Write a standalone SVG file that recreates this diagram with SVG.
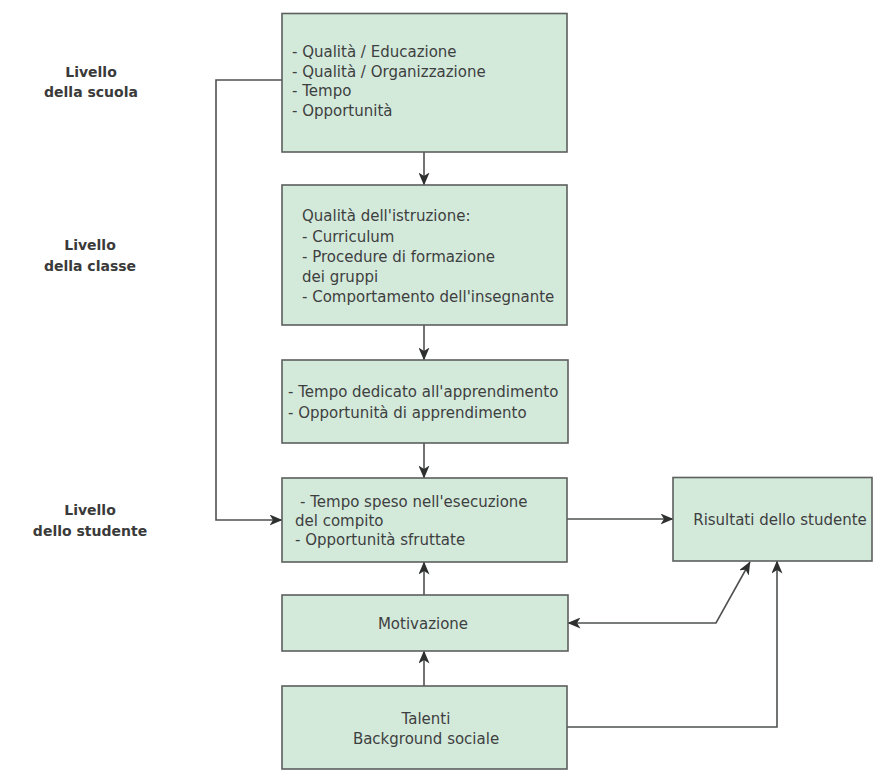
<svg xmlns="http://www.w3.org/2000/svg" width="877" height="772" viewBox="0 0 877 772">
<defs>
<style>
.box{fill:#d3eadb;stroke:#5d5f5e;stroke-width:1.6}
.t{font-family:"DejaVu Sans","Verdana",sans-serif;font-size:15px;fill:#3e403f}
.c{text-anchor:middle}
.lab{font-family:"DejaVu Sans","Verdana",sans-serif;font-size:14px;font-weight:bold;fill:#3a3a3a;text-anchor:middle}
.ln{fill:none;stroke:#4f5150;stroke-width:1.6}
</style>
<marker id="ah" viewBox="0 0 13 11" refX="12.5" refY="5.5" markerWidth="13" markerHeight="11" markerUnits="userSpaceOnUse" orient="auto-start-reverse">
<path d="M0,0 L13,5.5 L0,11 L3.5,5.5 Z" fill="#2e2f2f"/>
</marker>
</defs>
<rect width="877" height="772" fill="#ffffff"/>

<g id="labels">
<text class="lab" x="91" y="77">Livello</text>
<text class="lab" x="91" y="97">della scuola</text>
<text class="lab" x="90" y="250">Livello</text>
<text class="lab" x="90" y="271">della classe</text>
<text class="lab" x="90" y="515">Livello</text>
<text class="lab" x="90" y="536">dello studente</text>
</g>

<g id="connectors">
<line class="ln" x1="424" y1="152" x2="424" y2="185" marker-end="url(#ah)"/>
<line class="ln" x1="424" y1="325" x2="424" y2="360" marker-end="url(#ah)"/>
<line class="ln" x1="424" y1="443" x2="424" y2="478" marker-end="url(#ah)"/>
<line class="ln" x1="424" y1="595" x2="424" y2="562" marker-end="url(#ah)"/>
<line class="ln" x1="424" y1="686" x2="424" y2="651" marker-end="url(#ah)"/>
<line class="ln" x1="567" y1="519" x2="673" y2="519" marker-end="url(#ah)"/>
<polyline class="ln" points="282,80 216,80 216,520 282,520" marker-end="url(#ah)"/>
<polyline class="ln" points="568,623 716,623 750,562" marker-start="url(#ah)" marker-end="url(#ah)"/>
<polyline class="ln" points="567,727 777,727 777,561" marker-end="url(#ah)"/>
</g>

<g id="n-scuola">
<rect class="box" x="282" y="13.5" width="285" height="138.5"/>
<text class="t" x="292" y="57">- Qualità / Educazione</text>
<text class="t" x="292" y="76.5">- Qualità / Organizzazione</text>
<text class="t" x="292" y="96">- Tempo</text>
<text class="t" x="292" y="115.5">- Opportunità</text>
</g>

<g id="n-classe">
<rect class="box" x="282" y="185" width="285" height="140"/>
<text class="t" x="302" y="221">Qualità dell'istruzione:</text>
<text class="t" x="302" y="241.5">- Curriculum</text>
<text class="t" x="302" y="262">- Procedure di formazione</text>
<text class="t" x="302" y="282">dei gruppi</text>
<text class="t" x="302" y="302">- Comportamento dell'insegnante</text>
</g>

<g id="n-tempo">
<rect class="box" x="282" y="360" width="286" height="83"/>
<text class="t" x="288" y="397">- Tempo dedicato all'apprendimento</text>
<text class="t" x="288" y="418">- Opportunità di apprendimento</text>
</g>

<g id="n-studente">
<rect class="box" x="282" y="478" width="285" height="84"/>
<text class="t" x="300" y="507">- Tempo speso nell'esecuzione</text>
<text class="t" x="295" y="526">del compito</text>
<text class="t" x="295" y="545">- Opportunità sfruttate</text>
</g>

<g id="n-risultati">
<rect class="box" x="673" y="477.5" width="199" height="83.5"/>
<text class="t c" x="780" y="525">Risultati dello studente</text>
</g>

<g id="n-motivazione">
<rect class="box" x="282" y="595" width="286" height="56"/>
<text class="t c" x="423" y="629">Motivazione</text>
</g>

<g id="n-talenti">
<rect class="box" x="282" y="686" width="285" height="83"/>
<text class="t c" x="426" y="724">Talenti</text>
<text class="t c" x="426" y="744">Background sociale</text>
</g>
</svg>
